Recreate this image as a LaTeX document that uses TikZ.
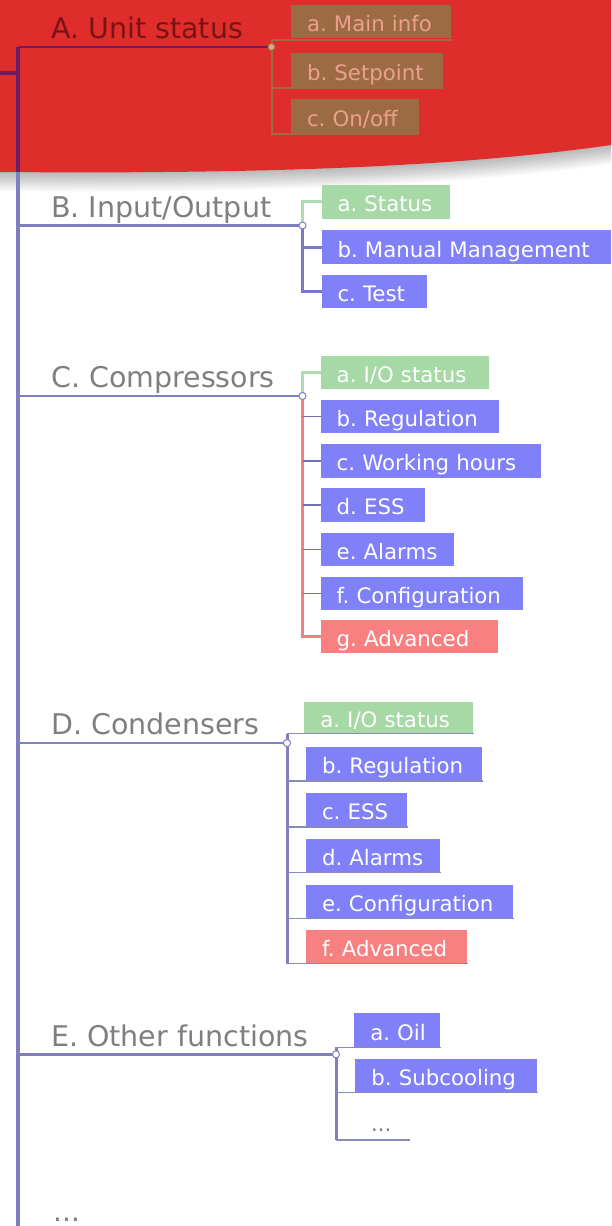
\documentclass[tikz,border=0pt]{standalone}
\usepackage{fontspec}
\setmainfont{DejaVu Sans}
\frenchspacing
\definecolor{redbg}{HTML}{DE2D2B}
\definecolor{trunkc}{HTML}{8080C0}
\definecolor{trunkred}{HTML}{6C1C66}
\definecolor{lblgray}{HTML}{7F7F7F}
\definecolor{lblred}{HTML}{7A1414}
\definecolor{boxblue}{HTML}{8080F8}
\definecolor{boxgreen}{HTML}{A6D9A6}
\definecolor{boxsalmon}{HTML}{F88080}
\definecolor{boxbrown}{HTML}{9D6B43}
\definecolor{txtbrown}{HTML}{EBA08E}
\definecolor{linebrown}{HTML}{A06A45}
\definecolor{tickc}{HTML}{7070B4}
\definecolor{ulinec}{HTML}{8A8AB8}
\definecolor{greenline}{HTML}{B0DCB0}
\definecolor{redline}{HTML}{F08080}
\definecolor{blueline}{HTML}{7878C8}
\newcommand\cb[7]{\node[cbox,#6,minimum height=#5pt,text width=#4pt] (#1) at (#2,#3) {\mbox{#7}};}
\begin{document}
\begin{tikzpicture}[x=1pt,y=-1pt,
  lbl/.style={anchor=base west,font=\fontsize{28.5}{30}\selectfont,text=lblgray,inner sep=0pt},
  cbox/.style={anchor=north west,inner xsep=16pt,inner ysep=0pt,outer sep=0pt,
    text height=22pt,text depth=2pt,align=left,font=\fontsize{21.3}{24}\selectfont,text=white},
  bgreen/.style={fill=boxgreen},
  bblue/.style={fill=boxblue},
  bsalmon/.style={fill=boxsalmon},
  bbrown/.style={fill=boxbrown,text=txtbrown},
  jdot/.style={circle,draw=#1,fill=white,line width=0.9pt,inner sep=0pt,minimum size=7pt},
  hline/.style={draw=trunkc,line width=2.6pt},
  trunkline/.style={draw=trunkc,line width=4.5pt},
  gline/.style={draw=greenline,line width=3pt},
  rline/.style={draw=redline,line width=3pt},
  bline/.style={draw=blueline,line width=3pt},
  tline/.style={draw=tickc,line width=1.6pt},
  uline/.style={draw=ulinec,line width=1.3pt},
  vline/.style={draw=trunkc,line width=3pt},
  bruline/.style={draw=linebrown,line width=2pt},
  dots/.style={anchor=base west,inner sep=0pt,text=lblgray}]
\useasboundingbox (0,0) rectangle (611,1226);
\fill[white] (0,0) rectangle (611,1226);
% red highlight with soft shadow
\foreach \k in {1,...,12}
  \fill[black,opacity=0.022] (0,0) -- (0,{172+1.6*\k}) .. controls (250,{174+1.6*\k}) and (450,{168+1.6*\k}) .. (611,{145+1.6*\k}) -- (611,0) -- cycle;
\fill[redbg] (0,0) -- (0,172) .. controls (250,174) and (450,168) .. (611,145) -- (611,0) -- cycle;

% trunk
\coordinate (ttop) at (18,47);
\coordinate (tedge) at (18,172);
\coordinate (tbot) at (18,1226);
\coordinate (tin) at (0,73);
\draw[trunkline] (tedge) -- (tbot);
\draw[draw=trunkred,line width=4.5pt] (ttop) -- (tedge);
\draw[draw=trunkred,line width=4pt] (tin) -- (tin -| ttop);

% main labels
\node[lbl,text=lblred] (A) at (51,38.3) {A. Unit status};
\node[lbl] (B) at (51,217) {B. Input/Output};
\node[lbl] (C) at (51,387.7) {C. Compressors};
\node[lbl] (D) at (51,734.5) {D. Condensers};
\node[lbl] (E) at (51,1046) {E. Other functions};
\node[dots,font=\fontsize{28}{30}\selectfont] (more) at (53,1221) {...};

% junction dots
\node[jdot=linebrown,fill=txtbrown] (cA) at (271.5,47) {};
\node[jdot=trunkc] (cB) at (302.5,225.5) {};
\node[jdot=trunkc] (cC) at (302.5,396) {};
\node[jdot=trunkc] (cD) at (287,743) {};
\node[jdot=trunkc] (cE) at (336,1054.3) {};

% A children
\cb{Aa}{291}{5}{128}{33}{bbrown}{a. Main info}
\cb{Ab}{291}{53}{120}{34}{bbrown}{b. Setpoint}
\cb{Ac}{291}{99}{96}{34}{bbrown}{c. On/off}
% B children
\cb{Ba}{321.5}{185}{96.5}{33.5}{bgreen}{a. Status}
\cb{Bb}{321.5}{230}{257.5}{34}{bblue}{b. Manual Management}
\cb{Bc}{321.5}{275}{73.5}{33}{bblue}{c. Test}
% C children
\cb{Ca}{320.7}{355.7}{136.6}{33.3}{bgreen}{a. I/O status}
\cb{Cb}{320.7}{400}{146.6}{33.3}{bblue}{b. Regulation}
\cb{Cc}{320.7}{444.3}{188}{33.3}{bblue}{c. Working hours}
\cb{Cd}{320.7}{488.3}{72.3}{33.3}{bblue}{d. ESS}
\cb{Ce}{320.7}{532.7}{101.3}{33.3}{bblue}{e. Alarms}
\cb{Cf}{320.7}{576.7}{170.6}{33.3}{bblue}{f. Configuration}
\cb{Cg}{320.7}{620}{145.6}{33.3}{bsalmon}{g. Advanced}
% D children
\cb{Da}{304.3}{701.7}{136.4}{31}{bgreen}{a. I/O status}
\cb{Db}{306}{747.3}{144.3}{32.7}{bblue}{b. Regulation}
\cb{Dc}{306}{793.3}{68.7}{32.7}{bblue}{c. ESS}
\cb{Dd}{306}{839}{102}{32.7}{bblue}{d. Alarms}
\cb{De}{306}{885}{174.7}{32.7}{bblue}{e. Configuration}
\cb{Df}{306}{930}{129.3}{32.7}{bsalmon}{f. Advanced}
% E children
\cb{Ea}{354.3}{1013.3}{54.1}{33.4}{bblue}{a. Oil}
\cb{Eb}{355.4}{1059.3}{149.4}{32.4}{bblue}{b. Subcooling}
\node[dots,font=\fontsize{21}{24}\selectfont] (Ec) at (371,1131) {...};
\coordinate (Ecend) at (410,1140);

% trunk to groups
\draw[draw=trunkred,line width=2.6pt] (ttop) -- (cA);
\draw[hline] (ttop |- cB) -- (cB);
\draw[hline] (ttop |- cC) -- (cC);
\draw[hline] (ttop |- cD) -- (cD);
\draw[hline] (ttop |- cE) -- (cE);

% A branch (underline style)
\draw[bruline] ([yshift=-1.5pt]cA.center |- Aa.south) -- ([yshift=-1.5pt]cA.center |- Ac.south);
\draw[bruline] ([yshift=-1.5pt]cA.center |- Aa.south) -- ([yshift=-1.5pt,xshift=1pt]Aa.south east);
\draw[bruline] ([yshift=-1pt]cA.center |- Ab.south) -- ([yshift=-1pt]Ab.south east);
\draw[bruline] ([yshift=-1pt]cA.center |- Ac.south) -- ([yshift=-1pt]Ac.south east);

% B branch
\draw[gline] (cB.center) |- (Ba.west);
\draw[bline] (cB.center) |- (Bc.west);
\draw[bline] (cB.center |- Bb.west) -- (Bb.west);

% C branch
\draw[gline] (cC.center) |- (Ca.west);
\draw[rline] (cC.center) |- (Cg.west);
\foreach \n in {Cb,Cc,Cd,Ce,Cf}
  \draw[tline] (cC.center |- \n.west) -- (\n.west);

% D branch (underline style)
\draw[vline] ([yshift=-1pt]cD.center |- Da.south) -- ([yshift=-1pt]cD.center |- Df.south);
\foreach \n in {Da,Db,Dc,Dd,De,Df}
  \draw[uline] ([yshift=-1pt]cD.center |- \n.south) -- ([yshift=-1pt,xshift=1pt]\n.south east);

% E branch (underline style)
\draw[vline] ([yshift=-0.5pt]cE.center |- Ea.south) -- (cE.center |- Ecend);
\draw[uline] ([yshift=-0.5pt]cE.center |- Ea.south) -- ([yshift=-0.5pt,xshift=1pt]Ea.south east);
\draw[uline] ([yshift=-0.5pt]cE.center |- Eb.south) -- ([yshift=-0.5pt,xshift=1pt]Eb.south east);
\draw[uline] (cE.center |- Ecend) -- (Ecend);

% redraw junction dots on top
\node[jdot=linebrown,fill=txtbrown] at (cA) {};
\node[jdot=trunkc] at (cB) {};
\node[jdot=trunkc] at (cC) {};
\node[jdot=trunkc] at (cD) {};
\node[jdot=trunkc] at (cE) {};
\end{tikzpicture}
\end{document}
